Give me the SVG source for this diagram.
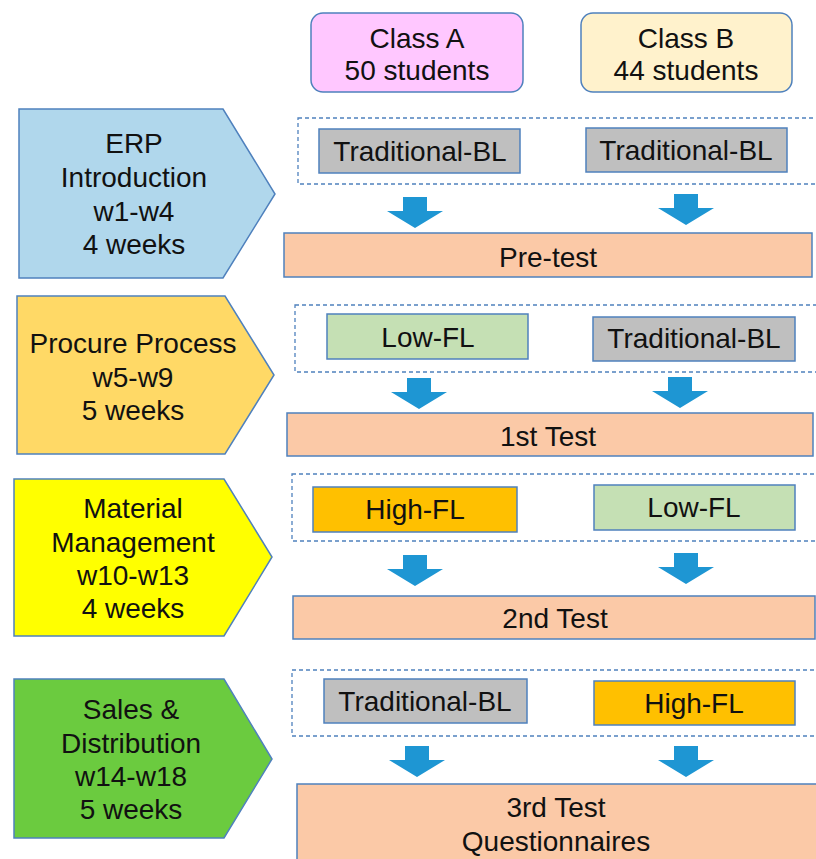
<svg xmlns="http://www.w3.org/2000/svg" width="816" height="859" viewBox="0 0 816 859">
<style>
text{font-family:"Liberation Sans",Arial,sans-serif;font-size:28px;fill:#111;text-anchor:middle}
.bx{stroke:#4F81BD;stroke-width:1.5}
.dash{fill:none;stroke:#4F81BD;stroke-width:1.3;stroke-dasharray:4 3}
.arr{fill:#1E96D3}
.test{fill:#FBC9A7;stroke:#4F81BD;stroke-width:1.5}
.gray{fill:#BFBFBF}
.low{fill:#C5E0B4}
.high{fill:#FFC000}
</style>
<defs>
<path id="dn" d="M-12,0 H12 V14 H28 L0,31 L-28,14 H-12 Z"/>
</defs>
<rect width="816" height="859" fill="#fff"/>

<g id="classA"><rect class="bx" x="311" y="13" width="212" height="79" rx="12" fill="#FFC7FF"/><text x="417" y="48">Class A</text><text x="417" y="80">50 students</text></g>
<g id="classB"><rect class="bx" x="581" y="13" width="211" height="79" rx="12" fill="#FFF2CC"/><text x="686" y="48">Class B</text><text x="686" y="80">44 students</text></g>

<g id="phase1"><path class="bx" d="M19,109 H223 L275,194 L223,278 H19 Z" fill="#B0D7EC"/><text x="134" y="153">ERP</text><text x="134" y="187">Introduction</text><text x="134" y="221">w1-w4</text><text x="134" y="254">4 weeks</text></g>
<g id="phase2"><path class="bx" d="M17,296 H225 L274,375 L225,454 H17 Z" fill="#FFD966"/><text x="133" y="353">Procure Process</text><text x="133" y="387">w5-w9</text><text x="133" y="420">5 weeks</text></g>
<g id="phase3"><path class="bx" d="M14,479 H224 L272,557 L224,636 H14 Z" fill="#FFFF00"/><text x="133" y="518">Material</text><text x="133" y="552">Management</text><text x="133" y="585">w10-w13</text><text x="133" y="618">4 weeks</text></g>
<g id="phase4"><path class="bx" d="M14,679 H224 L272,759 L224,838 H14 Z" fill="#6BCB3F"/><text x="131" y="719">Sales &amp;</text><text x="131" y="753">Distribution</text><text x="131" y="786">w14-w18</text><text x="131" y="819">5 weeks</text></g>

<g id="groups">
<rect class="dash" x="298" y="118" width="530" height="66"/>
<rect class="dash" x="295" y="305" width="533" height="67"/>
<rect class="dash" x="292" y="474" width="536" height="67"/>
<rect class="dash" x="292" y="670" width="536" height="66"/>
</g>

<g id="s1a"><rect class="bx gray" x="319" y="129" width="201" height="44"/><text x="420" y="161">Traditional-BL</text></g>
<g id="s1b"><rect class="bx gray" x="586" y="128" width="201" height="44"/><text x="686" y="160">Traditional-BL</text></g>
<g id="s2a"><rect class="bx low" x="327" y="314" width="201" height="45"/><text x="428" y="347">Low-FL</text></g>
<g id="s2b"><rect class="bx gray" x="593" y="317" width="202" height="44"/><text x="694" y="348">Traditional-BL</text></g>
<g id="s3a"><rect class="bx high" x="313" y="487" width="204" height="45"/><text x="415" y="519">High-FL</text></g>
<g id="s3b"><rect class="bx low" x="594" y="485" width="201" height="45"/><text x="694" y="517">Low-FL</text></g>
<g id="s4a"><rect class="bx gray" x="324" y="679" width="203" height="44"/><text x="425" y="711">Traditional-BL</text></g>
<g id="s4b"><rect class="bx high" x="594" y="681" width="201" height="44"/><text x="694" y="713">High-FL</text></g>

<g id="t0"><rect class="test" x="284" y="233" width="528" height="44"/><text x="548" y="267">Pre-test</text></g>
<g id="t1"><rect class="test" x="287" y="413" width="526" height="43"/><text x="548" y="446">1st Test</text></g>
<g id="t2"><rect class="test" x="293" y="596" width="522" height="43"/><text x="555" y="628">2nd Test</text></g>
<g id="t3"><rect class="test" x="297" y="784" width="522" height="80"/><text x="556" y="817">3rd Test</text><text x="556" y="851">Questionnaires</text></g>

<g id="connectors">
<use href="#dn" class="arr" x="415" y="197"/>
<use href="#dn" class="arr" x="686" y="194"/>
<use href="#dn" class="arr" x="419" y="378"/>
<use href="#dn" class="arr" x="680" y="377"/>
<use href="#dn" class="arr" x="415" y="555"/>
<use href="#dn" class="arr" x="686" y="553"/>
<use href="#dn" class="arr" x="417" y="746"/>
<use href="#dn" class="arr" x="686" y="746"/>
</g>
</svg>
